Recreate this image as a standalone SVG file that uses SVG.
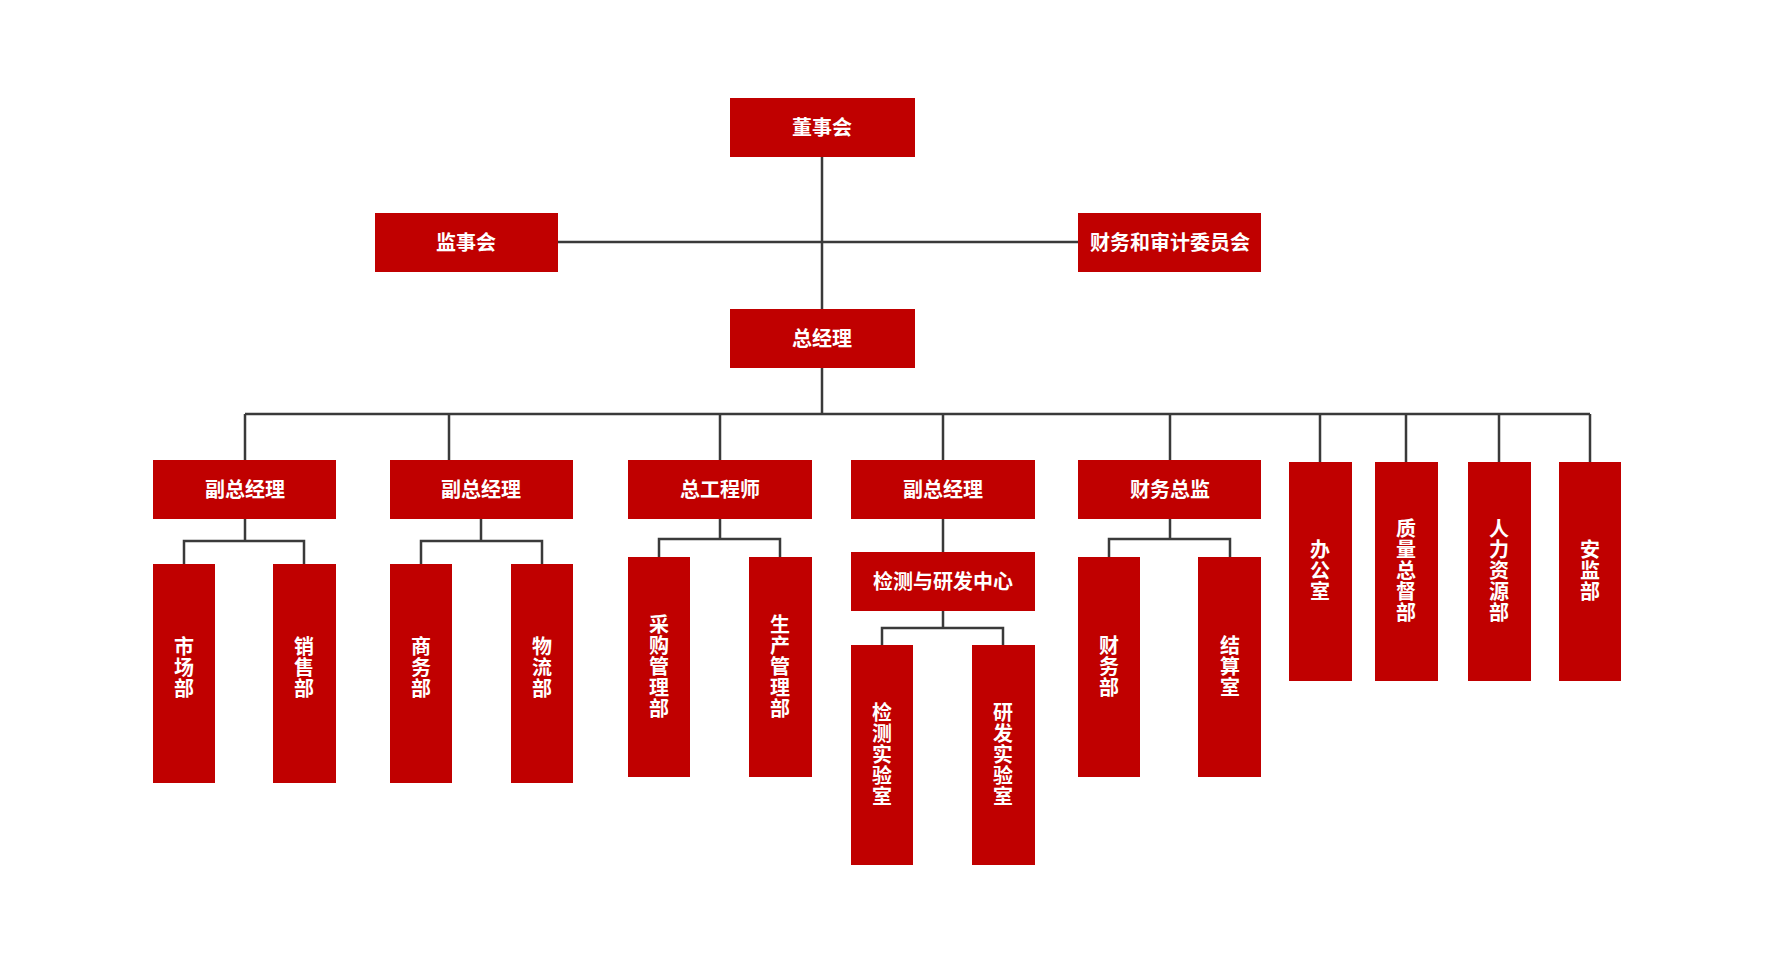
<svg xmlns="http://www.w3.org/2000/svg" width="1766" height="960" viewBox="0 0 1766 960">
<style>
.b{fill:#c00000}
.t{fill:#fff;font-family:"Noto Sans CJK SC",sans-serif;font-weight:bold;font-size:20px;text-anchor:middle}
.v{fill:#fff;font-family:"Noto Sans CJK SC",sans-serif;font-weight:bold;font-size:20px;text-anchor:middle;writing-mode:vertical-rl;letter-spacing:1px}
.c{stroke:#3a3a3a;stroke-width:2.5;fill:none}
</style>
<rect width="1766" height="960" fill="#fff"/>
<g id="connectors" class="c">
<path d="M822 157V309M558 242H1078M822 368V414M245 414H1590"/>
<path d="M245 414V460M449 414V460M720 414V460M943 414V460M1170 414V460M1320 414V462M1406 414V462M1499 414V462M1590 414V462"/>
<path d="M245 519V541M184 564V541H304V564"/>
<path d="M481 519V541M421 564V541H542V564"/>
<path d="M720 519V539M659 557V539H780V557"/>
<path d="M943 519V552M943 611V628M882 645V628H1003V645"/>
<path d="M1170 519V539M1109 557V539H1230V557"/>
</g>
<g id="n1"><rect class="b" x="730" y="98" width="185" height="59"/><text class="t" x="822" y="135">董事会</text></g>
<g id="n2"><rect class="b" x="375" y="213" width="183" height="59"/><text class="t" x="466" y="250">监事会</text></g>
<g id="n3"><rect class="b" x="1078" y="213" width="183" height="59"/><text class="t" x="1170" y="250">财务和审计委员会</text></g>
<g id="n4"><rect class="b" x="730" y="309" width="185" height="59"/><text class="t" x="822" y="346">总经理</text></g>
<g id="n5"><rect class="b" x="153" y="460" width="183" height="59"/><text class="t" x="245" y="497">副总经理</text></g>
<g id="n6"><rect class="b" x="390" y="460" width="183" height="59"/><text class="t" x="481" y="497">副总经理</text></g>
<g id="n7"><rect class="b" x="628" y="460" width="184" height="59"/><text class="t" x="720" y="497">总工程师</text></g>
<g id="n8"><rect class="b" x="851" y="460" width="184" height="59"/><text class="t" x="943" y="497">副总经理</text></g>
<g id="n9"><rect class="b" x="1078" y="460" width="183" height="59"/><text class="t" x="1170" y="497">财务总监</text></g>
<g id="n10"><rect class="b" x="1289" y="462" width="63" height="219"/><text class="v" x="1320" y="571">办公室</text></g>
<g id="n11"><rect class="b" x="1375" y="462" width="63" height="219"/><text class="v" x="1406" y="571">质量总督部</text></g>
<g id="n12"><rect class="b" x="1468" y="462" width="63" height="219"/><text class="v" x="1499" y="571">人力资源部</text></g>
<g id="n13"><rect class="b" x="1559" y="462" width="62" height="219"/><text class="v" x="1590" y="571">安监部</text></g>
<g id="n14"><rect class="b" x="153" y="564" width="62" height="219"/><text class="v" x="184" y="668">市场部</text></g>
<g id="n15"><rect class="b" x="273" y="564" width="63" height="219"/><text class="v" x="304" y="668">销售部</text></g>
<g id="n16"><rect class="b" x="390" y="564" width="62" height="219"/><text class="v" x="421" y="668">商务部</text></g>
<g id="n17"><rect class="b" x="511" y="564" width="62" height="219"/><text class="v" x="542" y="668">物流部</text></g>
<g id="n18"><rect class="b" x="628" y="557" width="62" height="220"/><text class="v" x="659" y="667">采购管理部</text></g>
<g id="n19"><rect class="b" x="749" y="557" width="63" height="220"/><text class="v" x="780" y="667">生产管理部</text></g>
<g id="n20"><rect class="b" x="851" y="552" width="184" height="59"/><text class="t" x="943" y="589">检测与研发中心</text></g>
<g id="n21"><rect class="b" x="851" y="645" width="62" height="220"/><text class="v" x="882" y="755">检测实验室</text></g>
<g id="n22"><rect class="b" x="972" y="645" width="63" height="220"/><text class="v" x="1003" y="755">研发实验室</text></g>
<g id="n23"><rect class="b" x="1078" y="557" width="62" height="220"/><text class="v" x="1109" y="667">财务部</text></g>
<g id="n24"><rect class="b" x="1198" y="557" width="63" height="220"/><text class="v" x="1230" y="667">结算室</text></g>
</svg>
